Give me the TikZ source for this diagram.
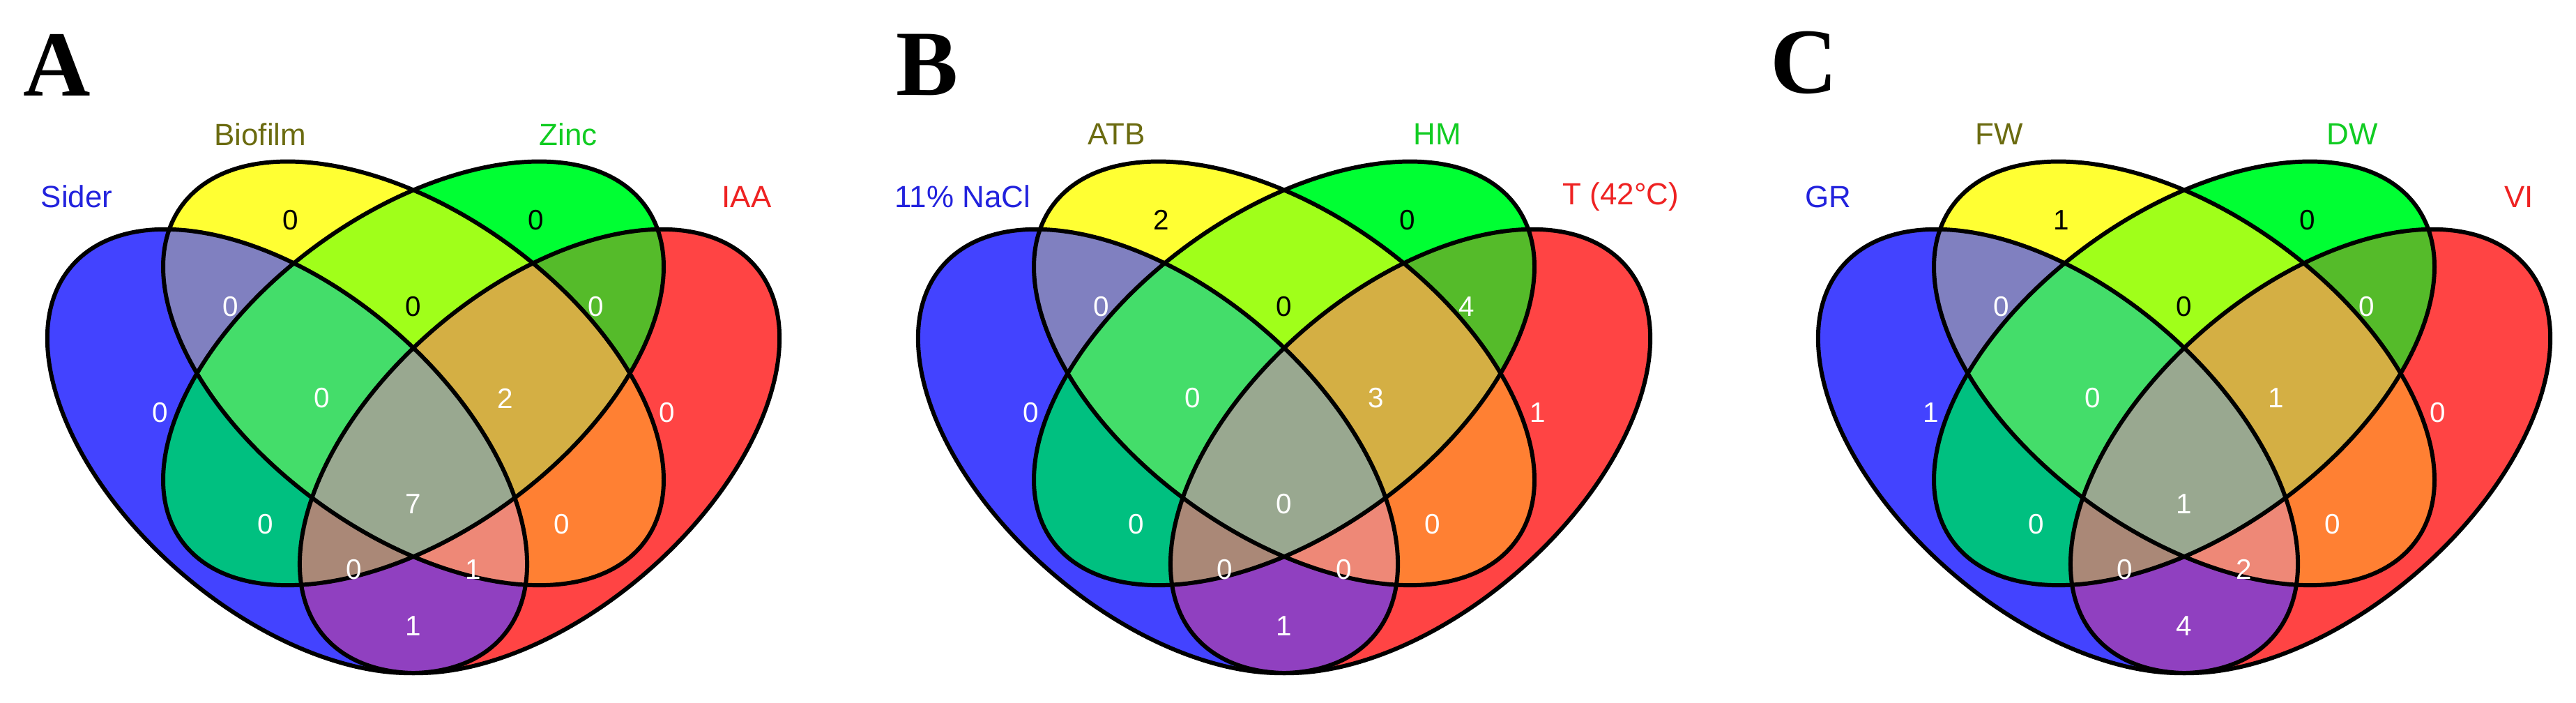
\documentclass[tikz,border=0pt]{standalone}
\usepackage{fontspec}
\setmainfont{Liberation Sans}
\newfontfamily\letterfont{Liberation Serif}
\definecolor{cB}{HTML}{4343FF}\definecolor{cY}{HTML}{FFFF33}
\definecolor{cG}{HTML}{00FF33}\definecolor{cR}{HTML}{FF4444}
\definecolor{cBY}{HTML}{8080C0}\definecolor{cBG}{HTML}{00C080}
\definecolor{cBR}{HTML}{9040C0}\definecolor{cYG}{HTML}{A0FF1A}
\definecolor{cYR}{HTML}{FF8033}\definecolor{cGR}{HTML}{55BB2A}
\definecolor{cBYG}{HTML}{44DD6A}\definecolor{cBYR}{HTML}{EE8877}
\definecolor{cBGR}{HTML}{AA8877}\definecolor{cYGR}{HTML}{D4AF44}
\definecolor{cAll}{HTML}{99A890}
\definecolor{tB}{HTML}{2222DD}\definecolor{tY}{HTML}{6B6B10}
\definecolor{tG}{HTML}{11CC22}\definecolor{tR}{HTML}{EE2222}
\def\EB{(0.35,0.47) ellipse[x radius=0.35,y radius=0.2,rotate=-45]}
\def\EY{(0.5,0.57) ellipse[x radius=0.35,y radius=0.2,rotate=-40]}
\def\EG{(0.5,0.57) ellipse[x radius=0.35,y radius=0.2,rotate=40]}
\def\ER{(0.65,0.47) ellipse[x radius=0.35,y radius=0.2,rotate=45]}
\newcommand\vpair[3]{\begin{scope}\clip#1;\fill[#3]#2;\end{scope}}
\newcommand\vtriple[4]{\begin{scope}\clip#1;\clip#2;\fill[#4]#3;\end{scope}}
\newcommand\vennbase{%
  \fill[cB]\EB; \fill[cY]\EY; \fill[cG]\EG; \fill[cR]\ER;
  \vpair\EB\EY{cBY}\vpair\EB\EG{cBG}\vpair\EB\ER{cBR}
  \vpair\EY\EG{cYG}\vpair\EY\ER{cYR}\vpair\EG\ER{cGR}
  \vtriple\EB\EY\EG{cBYG}\vtriple\EB\EY\ER{cBYR}
  \vtriple\EB\EG\ER{cBGR}\vtriple\EY\EG\ER{cYGR}
  \begin{scope}\clip\EB;\clip\EY;\clip\EG;\fill[cAll]\ER;\end{scope}
  \draw[outl]\EB; \draw[outl]\EY; \draw[outl]\EG; \draw[outl]\ER;}
% #1..#15 numbers
\newcommand\vennnums[9]{%
  \node[wn] (nB) at (0.199,0.520) {#1};
  \node[bn] (nY) at (0.354,0.767) {#2};
  \node[bn] (nG) at (0.646,0.767) {#3};
  \node[wn] (nR) at (0.801,0.520) {#4};
  \node[wn] (nBY) at (0.283,0.656) {#5};
  \node[bn] (nYG) at (0.5,0.656) {#6};
  \node[wn] (nGR) at (0.717,0.656) {#7};
  \node[wn] (nBYG) at (0.391,0.538) {#8};
  \node[wn] (nYGR) at (0.609,0.538) {#9};
  \vennnumsB}
\newcommand\vennnumsB[6]{%
  \node[wn] (nAll) at (0.5,0.402) {#1};
  \node[wn] (nBG) at (0.324,0.376) {#2};
  \node[wn] (nYR) at (0.676,0.376) {#3};
  \node[wn] (nBGR) at (0.429,0.318) {#4};
  \node[wn] (nBYR) at (0.571,0.318) {#5};
  \node[wn] (nBR) at (0.5,0.245) {#6};}
\tikzset{
  outl/.style={draw=black,line width=1.7pt},
  wn/.style={text=white,font=\fontsize{11.5}{12}\selectfont,inner sep=0pt},
  bn/.style={text=black,font=\fontsize{11.5}{12}\selectfont,inner sep=0pt},
  lab/.style={font=\fontsize{12.5}{13}\selectfont,inner sep=0pt},
  plet/.style={font=\letterfont\bfseries\fontsize{38}{40}\selectfont,inner sep=0pt},
  panel/.style={shift={(#1-6.035,-1.635)},xscale=12.07,yscale=11.16}}
\begin{document}
\begin{tikzpicture}
\useasboundingbox (0,0) rectangle (36.95,10.08);
\node[plet] (LA) at (0.82,9.15) {A};
\node[plet] (LB) at (13.30,9.15) {B};
\node[plet] (LC) at (25.88,9.18) {C};
\begin{scope}[panel=5.93]
  \vennbase
  \vennnums{0}{0}{0}{0}{0}{0}{0}{0}{2}{7}{0}{0}{0}{1}{1}
  \node[lab,text=tB] (sA1) at (0.10,0.797) {Sider};
  \node[lab,text=tY] (sA2) at (0.318,0.877) {Biofilm};
  \node[lab,text=tG] (sA3) at (0.684,0.877) {Zinc};
  \node[lab,text=tR] (sA4) at (0.896,0.797) {IAA};
\end{scope}
\begin{scope}[panel=18.42]
  \vennbase
  \vennnums{0}{2}{0}{1}{0}{0}{4}{0}{3}{0}{0}{0}{0}{0}{1}
  \node[lab,text=tB] (sB1) at (0.118,0.797) {11\% NaCl};
  \node[lab,text=tY] (sB2) at (0.301,0.877) {ATB};
  \node[lab,text=tG] (sB3) at (0.682,0.877) {HM};
  \node[lab,text=tR] (sB4) at (0.90,0.797) {T (42°C)};
\end{scope}
\begin{scope}[panel=31.33]
  \vennbase
  \vennnums{1}{1}{0}{0}{0}{0}{0}{0}{1}{1}{0}{0}{0}{2}{4}
  \node[lab,text=tB] (sC1) at (0.077,0.797) {GR};
  \node[lab,text=tY] (sC2) at (0.28,0.877) {FW};
  \node[lab,text=tG] (sC3) at (0.70,0.877) {DW};
  \node[lab,text=tR] (sC4) at (0.898,0.797) {VI};
\end{scope}
\end{tikzpicture}
\end{document}
